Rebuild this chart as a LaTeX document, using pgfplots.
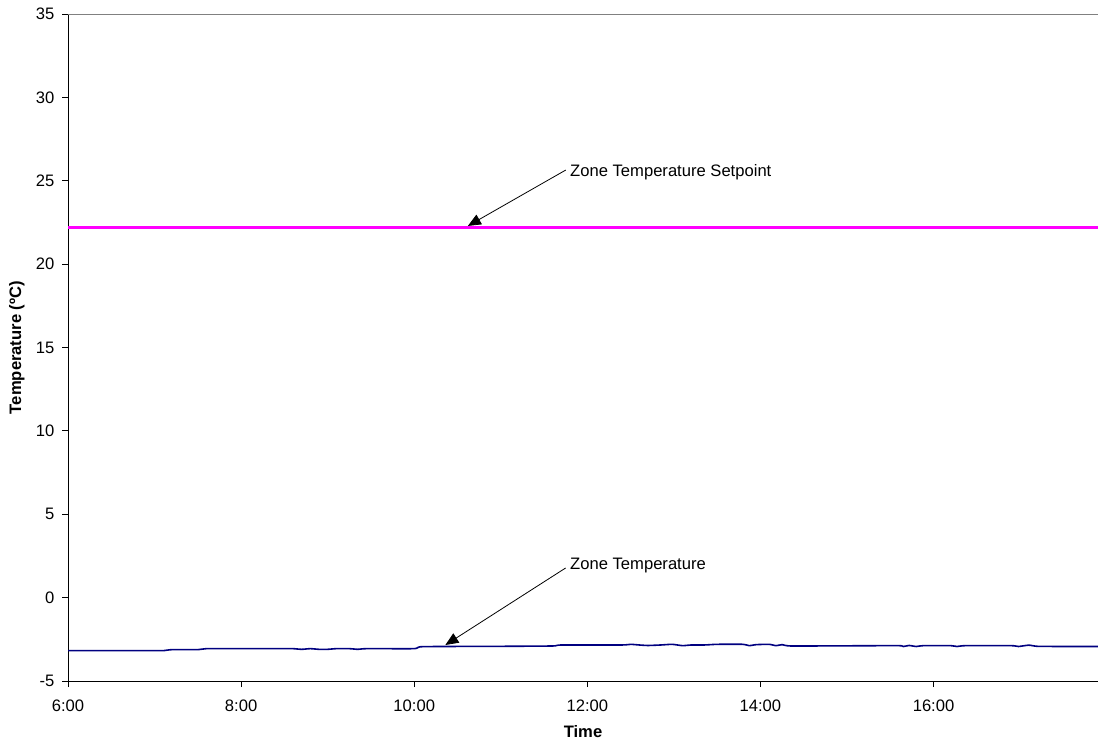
\documentclass[border=0pt]{standalone}
\usepackage{fontspec}
\setmainfont{Liberation Sans}
\usepackage{pgfplots}
\pgfplotsset{compat=1.18}
\usetikzlibrary{arrows.meta}
\definecolor{setpointcol}{HTML}{FF00FF}
\definecolor{zonecol}{HTML}{000080}
\pgfplotstableread{
t v
6.0 22.2
17.9 22.2
}\setpointdata
\begin{document}
\fontsize{16.6}{20}\selectfont
\begin{tikzpicture}
\begin{axis}[
 name=ax,
 scale only axis, width=1030pt, height=667pt,
 xmin=6, xmax=17.9, ymin=-5, ymax=35,
 axis x line*=bottom, axis y line*=left,
 axis line style={-, black, line width=0.8pt},
 xtick={6,8,10,12,14,16}, xticklabels={6:00,8:00,10:00,12:00,14:00,16:00},
 ytick={-5,0,5,10,15,20,25,30,35},
 tick align=outside, major tick length=6pt,
 tick style={black, line width=0.8pt},
 /pgf/number format/assume math mode=true,
 ticklabel style={font=\fontsize{16.6}{20}\selectfont},
 xticklabel style={yshift=-7pt},
 yticklabel style={xshift=-2pt},
 xlabel={Time}, ylabel={Temperature (ºC)},
 label style={font=\bfseries\fontsize{16.6}{20}\selectfont},
 xlabel style={yshift=-3pt},
 clip=false,
]
\addplot[color=setpointcol, line width=2.5pt, no markers] table[x=t, y=v] {\setpointdata};
\addplot[zonecol, line width=1.6pt, no markers, smooth, tension=0.3] coordinates {
(6.0,-3.18) (6.5,-3.18) (7.0,-3.18) (7.1,-3.18) (7.2,-3.12) (7.5,-3.12) (7.6,-3.06)
(8.0,-3.06) (8.5,-3.06) (8.6,-3.06) (8.7,-3.10) (8.8,-3.06) (8.9,-3.10) (9.0,-3.10)
(9.1,-3.06) (9.25,-3.06) (9.35,-3.10) (9.45,-3.06) (10.0,-3.06) (10.1,-2.94)
(11.0,-2.92) (11.6,-2.90) (11.7,-2.84) (12.4,-2.84) (12.5,-2.80) (12.6,-2.84)
(12.7,-2.87) (12.85,-2.84) (12.98,-2.80) (13.1,-2.88) (13.2,-2.84) (13.35,-2.84)
(13.5,-2.80) (13.8,-2.80) (13.87,-2.88) (13.95,-2.82) (14.1,-2.80) (14.18,-2.88)
(14.25,-2.82) (14.35,-2.90) (15.0,-2.89) (15.6,-2.88) (15.65,-2.93) (15.72,-2.87)
(15.8,-2.93) (15.88,-2.88) (16.2,-2.88) (16.27,-2.93) (16.37,-2.88) (16.9,-2.88)
(16.98,-2.93) (17.1,-2.85) (17.2,-2.92) (17.5,-2.93) (17.9,-2.93)};
\draw[color=gray, line width=0.8pt] (rel axis cs:0,1) -- (rel axis cs:1,1);
\draw[-{Triangle[width=11pt,length=13pt]}, line width=0.8pt] (axis cs:11.75,25.64) -- (axis cs:10.62,22.29);
\node[anchor=west, inner sep=0pt] at (axis cs:11.80,25.52) {Zone Temperature Setpoint};
\draw[-{Triangle[width=11pt,length=13pt]}, line width=0.8pt] (axis cs:11.75,1.78) -- (axis cs:10.36,-2.84);
\node[anchor=west, inner sep=0pt] at (axis cs:11.80,1.90) {Zone Temperature};
\end{axis}
\pgfresetboundingbox
\path[use as bounding box] ([shift={(-68pt,-63pt)}]ax.south west) rectangle ([shift={(0pt,14pt)}]ax.north east);
\end{tikzpicture}
\end{document}
